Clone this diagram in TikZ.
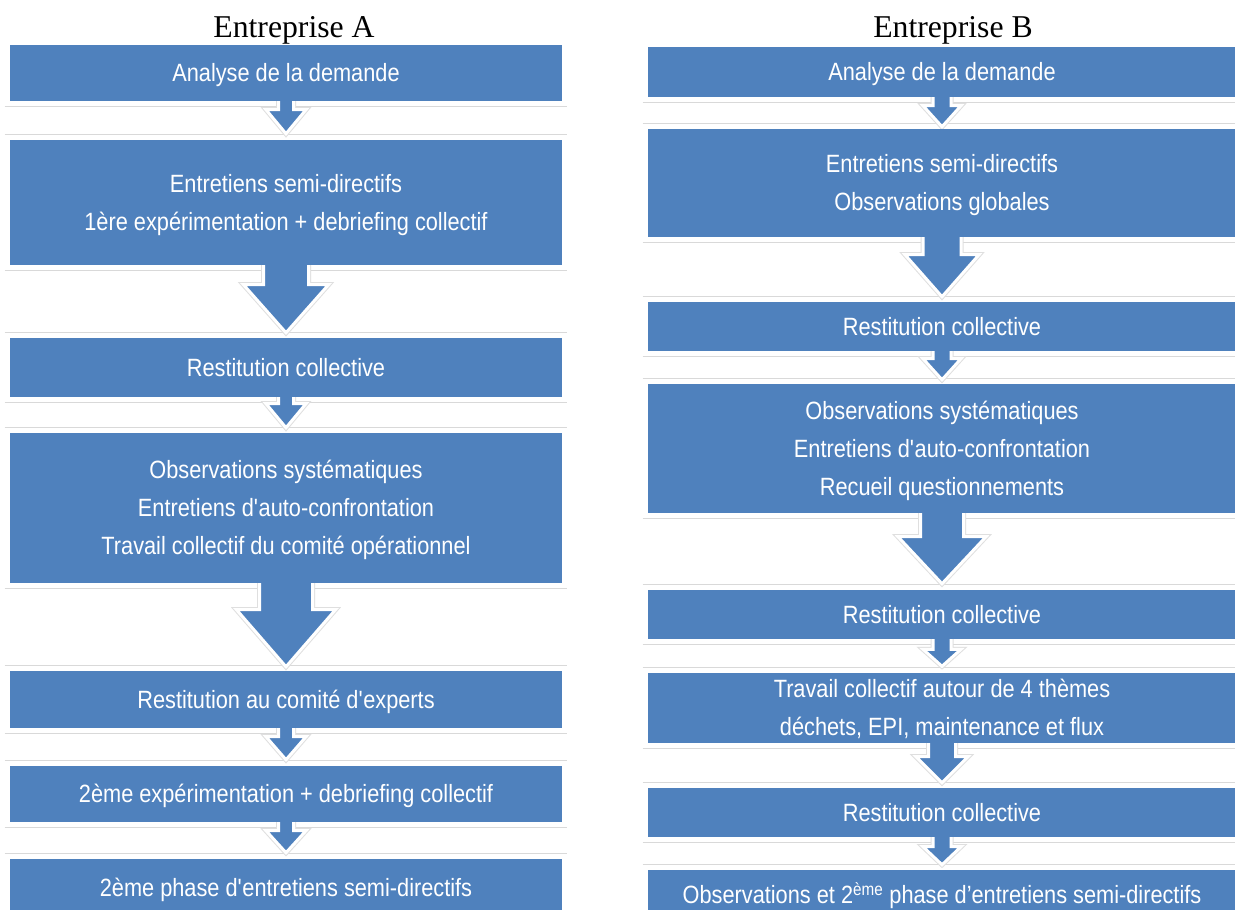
\documentclass[tikz,border=0pt]{standalone}
\usepackage{fontspec}
\setmainfont{Liberation Serif}
\newfontfamily\boxfont{Liberation Sans}[FakeStretch=0.87]
\usetikzlibrary{calc}
\definecolor{boxblue}{HTML}{4F81BD}
\pgfdeclarelayer{background}
\pgfsetlayers{background,main}
\newcommand\pxu{0.75pt}
\newcommand\lstrut{\rule[-0.3em]{0pt}{1.316em}}
\tikzset{
  stepbox/.style={rectangle, fill=boxblue, text=white, inner sep=0pt, align=center,
    font=\boxfont\fontsize{18.75pt}{28.5pt}\selectfont},
  colA/.style={stepbox, minimum width=414pt},
  colB/.style={stepbox, minimum width=441pt},
  titlesty/.style={font=\fontsize{23.8pt}{28pt}\selectfont, anchor=base, inner sep=0pt},
  framesty/.style={draw=gray!30, line width=0.9pt},
  flowarrowsty/.style={fill=boxblue, draw=white, line width=2.25pt, line join=miter,
    preaction={draw=gray!25, line width=3.75pt}}
}
% #1 from node, #2 to node, #3 half shaft, #4 half head, #5 head length, #6 gap above target (px)
\newcommand\flowarrow[6]{%
  \filldraw[flowarrowsty] let \p1=(#1.south), \p2=(#2.north) in
    (\x1-#3*\pxu,\y1+3*\pxu) -- (\x1-#3*\pxu,\y2+#6*\pxu+#5*\pxu)
    -- (\x1-#4*\pxu,\y2+#6*\pxu+#5*\pxu) -- (\x1,\y2+#6*\pxu)
    -- (\x1+#4*\pxu,\y2+#6*\pxu+#5*\pxu) -- (\x1+#3*\pxu,\y2+#6*\pxu+#5*\pxu)
    -- (\x1+#3*\pxu,\y1+3*\pxu) -- cycle;}
\newcommand\frametop[1]{%
  \draw[framesty] ($(#1.north west)+(-5,-5)$) -- ($(#1.north east)+(5,-5)$);}
\newcommand\framebottom[1]{%
  \draw[framesty] ($(#1.south west)+(-5,5)$) -- ($(#1.south east)+(5,5)$);}
\begin{document}
\begin{tikzpicture}[x=0.75pt,y=-0.75pt]
\useasboundingbox (0,0) rectangle (1235,910);

% titles
\node[titlesty] (tA) at (294,37.5) {Entreprise A};
\node[titlesty] (tB) at (953,37.5) {Entreprise B};

% left column
\node[colA, minimum height=42pt]    (a1) at (286,73)    {\lstrut Analyse de la demande};
\node[colA, minimum height=93.75pt] (a2) at (286,202.5) {\lstrut Entretiens semi-directifs\\\lstrut 1ère expérimentation + debriefing collectif};
\node[colA, minimum height=44.25pt] (a3) at (286,367.5) {\lstrut Restitution collective};
\node[colA, minimum height=112.5pt] (a4) at (286,508)   {\lstrut Observations systématiques\\\lstrut Entretiens d\textquotesingle auto-confrontation\\\lstrut Travail collectif du comité opérationnel};
\node[colA, minimum height=42.75pt] (a5) at (286,699.5) {\lstrut Restitution au comité d\textquotesingle experts};
\node[colA, minimum height=42pt]    (a6) at (286,794)   {\lstrut 2ème expérimentation + debriefing collectif};
\node[colA, minimum height=42.75pt] (a7) at (286,887.5) {\lstrut 2ème phase d\textquotesingle entretiens semi-directifs};

% right column
\node[colB, minimum height=37.5pt]  (b1) at (942,72)    {\lstrut Analyse de la demande};
\node[colB, minimum height=81pt]    (b2) at (942,183)   {\lstrut Entretiens semi-directifs\\\lstrut Observations globales};
\node[colB, minimum height=36.75pt] (b3) at (942,326.5) {\lstrut Restitution collective};
\node[colB, minimum height=96.75pt] (b4) at (942,448.5) {\lstrut Observations systématiques\\\lstrut Entretiens d\textquotesingle auto-confrontation\\\lstrut Recueil questionnements};
\node[colB, minimum height=36.75pt] (b5) at (942,614.5) {\lstrut Restitution collective};
\node[colB, minimum height=52.5pt]  (b6) at (942,708)   {\lstrut Travail collectif autour de 4 thèmes\\\lstrut déchets, EPI, maintenance et flux};
\node[colB, minimum height=36.75pt] (b7) at (942,812.5) {\lstrut Restitution collective};
\node[colB, minimum height=36.75pt] (b8) at (942,894.5) {\lstrut Observations et 2\textsuperscript{ème} phase d’entretiens semi-directifs};

\begin{pgfonlayer}{background}
  \fill[white] (0,0) rectangle (1235,910);
  \foreach \n in {a2,a3,a4,a5,a6,a7,b2,b3,b4,b5,b6,b7,b8} {\frametop{\n}}
  \foreach \n in {a1,a2,a3,a4,a5,a6,b1,b2,b3,b4,b5,b6,b7} {\framebottom{\n}}
  \flowarrow{a1}{a2}{7.5}{20}{24}{6}
  \flowarrow{a2}{a3}{22.5}{42.5}{48}{5}
  \flowarrow{a3}{a4}{7.5}{20}{24}{5}
  \flowarrow{a4}{a5}{26.5}{49.5}{57}{4}
  \flowarrow{a5}{a6}{7.5}{20}{23}{6}
  \flowarrow{a6}{a7}{7.5}{20}{22}{6}
  \flowarrow{b1}{b2}{9}{19}{21}{2}
  \flowarrow{b2}{b3}{19}{37}{42}{5}
  \flowarrow{b3}{b4}{9}{19}{21}{4}
  \flowarrow{b4}{b5}{21.5}{44}{47}{6}
  \flowarrow{b5}{b6}{9}{19}{17}{6}
  \flowarrow{b6}{b7}{13.5}{26}{26}{5}
  \flowarrow{b7}{b8}{9}{19}{18}{5}
\end{pgfonlayer}
\end{tikzpicture}
\end{document}
